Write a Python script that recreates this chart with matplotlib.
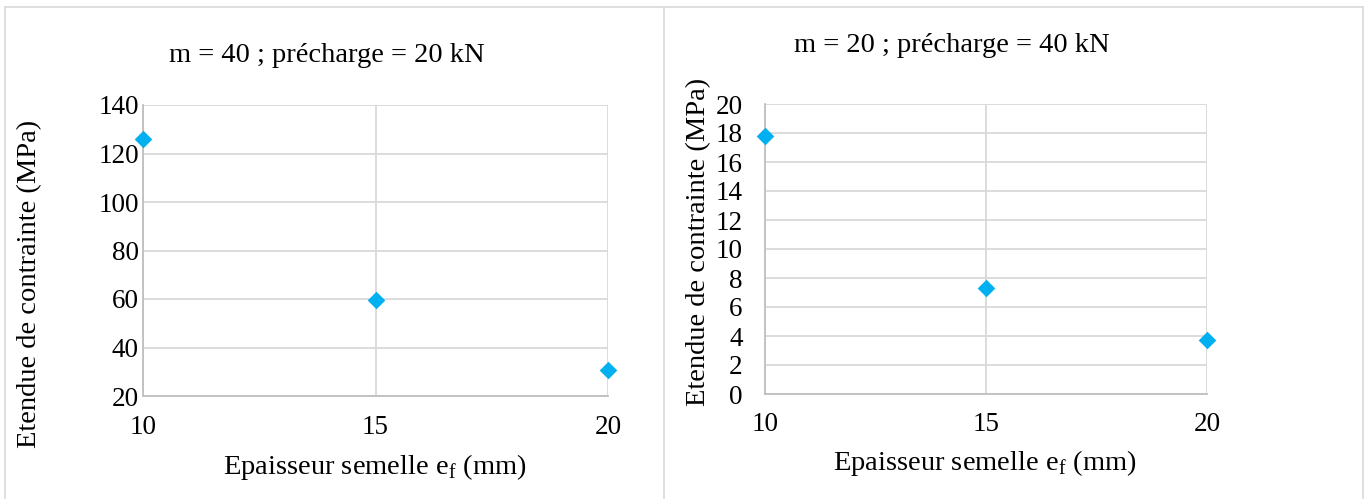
import matplotlib
matplotlib.use("Agg")
import matplotlib.pyplot as plt
from matplotlib.lines import Line2D

plt.rcParams['font.family'] = ['Liberation Serif', 'DejaVu Serif']
plt.rcParams['mathtext.fontset'] = 'custom'
plt.rcParams['mathtext.rm'] = 'Liberation Serif'

# Data
thickness = [10, 15, 20]
stress_left = [126, 59.6, 30.8]
stress_right = [17.8, 7.3, 3.7]
title_left = "m = 40 ; précharge = 20 kN"
title_right = "m = 20 ; précharge = 40 kN"
xlabel = r"Epaisseur semelle e$_\mathregular{f}$ (mm)"
ylabel = "Etendue de contrainte (MPa)"
yticks_left = [20, 40, 60, 80, 100, 120, 140]
yticks_right = list(range(0, 21, 2))
xticks = [10, 15, 20]

W, H = 1368, 499
fig = plt.figure(figsize=(W / 100, H / 100), dpi=100)
fig.patch.set_facecolor('white')

def px_axes(x0, y0, x1, y1):
    return fig.add_axes([x0 / W, 1 - y1 / H, (x1 - x0) / W, (y1 - y0) / H])

grid_c = '#d9d9d9'
mk_c = '#00b0f0'

# Frames
def fline(xs, ys):
    fig.add_artist(Line2D([x / W for x in xs], [1 - y / H for y in ys], color='#d9d9d9', lw=1.2))
fline([5, 5], [7, 499])
fline([5, 1363], [7, 7])
fline([664, 664], [7, 499])
fline([1363, 1363], [7, 499])

def setup(ax, yticks, ylim, ys, xpad, ypad):
    ax.scatter(thickness, ys, marker='D', s=80, color=mk_c, zorder=5, clip_on=False, linewidths=0)
    ax.set_xlim(10, 20)
    ax.set_ylim(*ylim)
    ax.set_xticks(xticks)
    ax.set_yticks(yticks)
    ax.grid(True, color=grid_c, lw=1.3)
    ax.set_axisbelow(True)
    for s in ['top', 'right']:
        ax.spines[s].set_visible(False)
    for s in ['left', 'bottom']:
        ax.spines[s].set_color('#bfbfbf')
        ax.spines[s].set_linewidth(1.3)
    ax.tick_params(length=0, labelsize=19.5)
    ax.tick_params(axis='x', pad=xpad)
    ax.tick_params(axis='y', pad=ypad)

axL = px_axes(143, 105, 608, 396)
setup(axL, yticks_left, (20, 140), stress_left, 14, 3)
axR = px_axes(765, 104, 1207, 394)
setup(axR, yticks_right, (0, 20), stress_right, 13, 16)

fs = 20.5
fig.text(327 / W, 1 - 55 / H, title_left, ha='center', va='center', fontsize=fs)
fig.text(952 / W, 1 - 46 / H, title_right, ha='center', va='center', fontsize=fs)
fig.text(375 / W, 1 - 467 / H, xlabel, ha='center', va='center', fontsize=fs)
fig.text(985 / W, 1 - 463 / H, xlabel, ha='center', va='center', fontsize=fs)
fig.text(30 / W, 1 - 284 / H, ylabel, ha='center', va='center', fontsize=fs, rotation=90)
fig.text(699 / W, 1 - 242 / H, ylabel, ha='center', va='center', fontsize=fs, rotation=90)

fig.savefig('out.png', dpi=100)
